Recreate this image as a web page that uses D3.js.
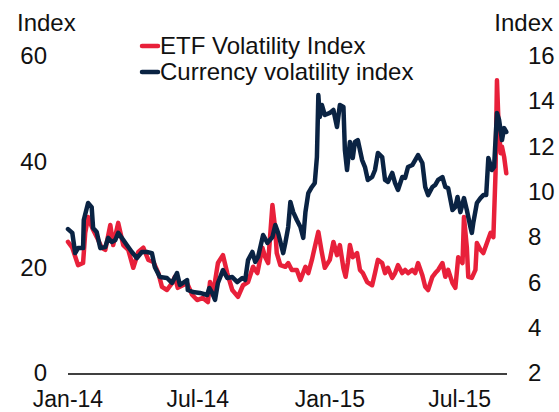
<!DOCTYPE html>
<html>
<head>
<meta charset="utf-8">
<script src="https://cdn.jsdelivr.net/npm/d3@7"></script>
<style>
  body { margin: 0; background: #fff; }
  svg { display: block; font-family: "Liberation Sans", Arial, sans-serif; }
  text { fill: #111; font-size: 24px; }
</style>
</head>
<body>
<div id="chart"></div>
<script>
// Dimensions
const width = 559;
const height = 412;
const plot = {left: 68, right: 507, top: 57, bottom: 374};

// Series names and colours
const seriesNames = ["ETF Volatility Index", "Currency volatility index"];
const seriesColours = ["#E8203A", "#0A2343"];

// Axis ticks
const leftTicks = [0, 20, 40, 60];
const rightTicks = [2, 4, 6, 8, 10, 12, 14, 16];
const xTickDates = ["2014-01-01", "2014-07-01", "2015-01-01", "2015-07-01"];
const xTickLabels = ["Jan-14", "Jul-14", "Jan-15", "Jul-15"];

// ETF volatility index (left axis)
const etfDates = [
  "2014-01-01","2014-01-07","2014-01-15","2014-01-22","2014-01-25","2014-01-29","2014-02-01","2014-02-05",
  "2014-02-12","2014-02-17","2014-02-22","2014-03-01","2014-03-05","2014-03-12","2014-03-19","2014-03-26",
  "2014-04-02","2014-04-09","2014-04-16","2014-04-23","2014-04-30","2014-05-07","2014-05-12","2014-05-19",
  "2014-05-26","2014-05-30","2014-06-03","2014-06-10","2014-06-16","2014-06-23","2014-06-30","2014-07-08",
  "2014-07-15","2014-07-18","2014-07-22","2014-07-29","2014-08-05","2014-08-11","2014-08-18","2014-08-26",
  "2014-09-02","2014-09-09","2014-09-16","2014-09-22","2014-09-29","2014-10-03","2014-10-07","2014-10-13",
  "2014-10-17","2014-10-19","2014-10-24","2014-10-31","2014-11-04","2014-11-09","2014-11-16","2014-11-21",
  "2014-11-28","2014-12-02","2014-12-07","2014-12-11","2014-12-16","2014-12-21","2014-12-25","2015-01-01",
  "2015-01-06","2015-01-11","2015-01-15","2015-01-20","2015-01-23","2015-01-26","2015-01-29","2015-02-02",
  "2015-02-08","2015-02-12","2015-02-16","2015-02-22","2015-03-01","2015-03-05","2015-03-09","2015-03-15",
  "2015-03-19","2015-03-23","2015-03-29","2015-04-02","2015-04-06","2015-04-12","2015-04-16","2015-04-20",
  "2015-04-26","2015-04-30","2015-05-04","2015-05-10","2015-05-14","2015-05-18","2015-05-24","2015-05-28",
  "2015-06-01","2015-06-07","2015-06-11","2015-06-15","2015-06-21","2015-06-25","2015-06-29","2015-07-05",
  "2015-07-07","2015-07-11","2015-07-13","2015-07-18","2015-07-23","2015-07-25","2015-07-30","2015-08-03",
  "2015-08-08","2015-08-13","2015-08-17","2015-08-20","2015-08-22","2015-08-24","2015-08-27","2015-08-29",
  "2015-09-01","2015-09-04"
];
const etfValues = [
  25.0, 23.9, 20.6, 21.0, 26.7, 29.7, 28.6, 27.3,
  25.4, 23.9, 23.5, 28.2, 24.4, 28.6, 24.4, 23.5,
  20.1, 23.1, 23.9, 21.6, 21.2, 19.1, 16.5, 15.9,
  17.2, 18.4, 16.3, 16.8, 17.2, 15.0, 14.0, 14.4,
  13.6, 17.4, 15.0, 21.0, 22.5, 19.1, 15.9, 14.6,
  16.8, 17.4, 20.3, 19.1, 23.9, 22.1, 21.0, 32.0,
  27.3, 22.9, 20.6, 20.3, 21.0, 19.7, 19.7, 17.8,
  20.3, 19.1, 21.6, 24.0, 26.9, 22.9, 20.1, 21.6,
  25.0, 22.5, 24.4, 20.0, 18.4, 21.0, 24.4, 22.1,
  22.9, 19.7, 19.1, 17.4, 16.8, 19.1, 21.6, 21.0,
  19.1, 20.1, 18.2, 19.1, 20.6, 19.1, 19.7, 19.1,
  19.7, 19.1, 21.0, 18.7, 16.5, 15.9, 18.4, 19.1,
  19.7, 21.0, 18.4, 19.7, 17.2, 16.3, 22.1, 21.0,
  29.7, 24.0, 18.4, 18.2, 19.7, 24.8, 23.5, 22.9,
  24.8, 26.7, 25.9, 38.0, 55.6, 48.1, 41.8, 43.0,
  41.1, 38.0
];

// Currency volatility index (right axis)
const fxDates = [
  "2014-01-01","2014-01-07","2014-01-11","2014-01-15","2014-01-22","2014-01-23","2014-01-29","2014-02-03",
  "2014-02-05","2014-02-10","2014-02-15","2014-02-22","2014-02-26","2014-03-03","2014-03-08","2014-03-12",
  "2014-03-17","2014-03-24","2014-03-31","2014-04-07","2014-04-14","2014-04-21","2014-04-28","2014-05-02",
  "2014-05-09","2014-05-19","2014-05-26","2014-06-02","2014-06-06","2014-06-16","2014-06-17","2014-06-24",
  "2014-07-04","2014-07-14","2014-07-17","2014-07-21","2014-07-25","2014-07-29","2014-08-05","2014-08-11",
  "2014-08-18","2014-08-25","2014-09-01","2014-09-05","2014-09-09","2014-09-15","2014-09-19","2014-09-23",
  "2014-09-30","2014-10-06","2014-10-13","2014-10-17","2014-10-21","2014-10-28","2014-10-31","2014-11-04",
  "2014-11-07","2014-11-11","2014-11-16","2014-11-21","2014-11-25","2014-11-28","2014-12-02","2014-12-07",
  "2014-12-11","2014-12-14","2014-12-16","2014-12-18","2014-12-21","2014-12-25","2015-01-01","2015-01-06",
  "2015-01-11","2015-01-15","2015-01-20","2015-01-22","2015-01-25","2015-01-29","2015-02-02","2015-02-05",
  "2015-02-09","2015-02-15","2015-02-19","2015-02-23","2015-03-01","2015-03-05","2015-03-09","2015-03-15",
  "2015-03-19","2015-03-23","2015-03-29","2015-04-02","2015-04-06","2015-04-12","2015-04-16","2015-04-20",
  "2015-04-26","2015-04-30","2015-05-04","2015-05-10","2015-05-14","2015-05-18","2015-05-24","2015-05-28",
  "2015-06-01","2015-06-07","2015-06-11","2015-06-15","2015-06-21","2015-06-25","2015-06-28","2015-07-02",
  "2015-07-07","2015-07-11","2015-07-16","2015-07-18","2015-07-20","2015-07-25","2015-07-30","2015-08-03",
  "2015-08-07","2015-08-10","2015-08-15","2015-08-18","2015-08-22","2015-08-25","2015-08-29","2015-09-01",
  "2015-09-04"
];
const fxValues = [
  8.40, 8.23, 7.34, 7.56, 7.56, 8.80, 9.55, 9.37,
  8.45, 8.27, 7.56, 7.61, 8.01, 7.83, 7.92, 8.23,
  8.01, 7.70, 7.39, 7.12, 7.39, 7.39, 7.34, 6.73,
  6.28, 6.24, 6.02, 6.46, 5.93, 6.15, 5.71, 5.62,
  5.58, 5.49, 5.80, 5.58, 5.27, 6.02, 6.59, 6.24,
  6.28, 6.06, 6.24, 6.15, 7.03, 7.39, 6.95, 7.17,
  8.14, 7.79, 8.05, 8.58, 8.23, 7.34, 7.79, 8.49,
  9.60, 9.15, 8.80, 8.49, 8.01, 9.15, 9.99, 10.26,
  10.43, 11.58, 14.32, 13.35, 13.88, 13.44, 13.53, 13.66,
  12.91, 13.88, 13.79, 11.89, 11.01, 12.25, 11.54, 12.25,
  12.33, 11.45, 11.14, 10.57, 10.70, 11.01, 11.76, 11.58,
  10.57, 10.48, 10.88, 10.43, 10.13, 10.70, 10.66, 11.14,
  11.23, 11.45, 11.67, 11.32, 10.26, 9.90, 10.26, 10.35,
  10.57, 10.70, 10.26, 10.21, 9.24, 9.38, 9.82, 9.15,
  9.77, 9.24, 8.49, 8.23, 8.67, 9.55, 9.77, 9.90,
  9.90, 11.54, 11.01, 11.14, 13.53, 13.22, 12.33, 12.86,
  12.69
];

const parseDate = d3.timeParse("%Y-%m-%d");
const etf = etfDates.map((d, i) => ({date: parseDate(d), value: etfValues[i]}));
const fx = fxDates.map((d, i) => ({date: parseDate(d), value: fxValues[i]}));

// Scales
const x = d3.scaleTime()
    .domain([parseDate("2014-01-01"), parseDate("2015-09-05")])
    .range([plot.left, plot.right]);
const yLeft = d3.scaleLinear().domain([0, 60]).range([plot.bottom, plot.top]);
const yRight = d3.scaleLinear().domain([2, 16]).range([plot.bottom, plot.top]);

const svg = d3.select("#chart").append("svg")
    .attr("width", width)
    .attr("height", height);

// Axis titles
svg.append("text").attr("x", 17).attr("y", 31).text("Index");
svg.append("text").attr("x", 553).attr("y", 31).attr("text-anchor", "end").text("Index");

// Left tick labels
svg.append("g").selectAll("text")
    .data(leftTicks)
    .join("text")
    .attr("x", 47)
    .attr("y", d => yLeft(d))
    .attr("dy", "0.3em")
    .attr("text-anchor", "end")
    .text(d => d);

// Right tick labels
svg.append("g").selectAll("text")
    .data(rightTicks)
    .join("text")
    .attr("x", 528)
    .attr("y", d => yRight(d))
    .attr("dy", "0.3em")
    .text(d => d);

// X tick labels
svg.append("g").selectAll("text")
    .data(xTickDates)
    .join("text")
    .attr("x", d => x(parseDate(d)))
    .attr("y", 407)
    .attr("text-anchor", "middle")
    .style("font-size", "23px")
    .text((d, i) => xTickLabels[i]);

// Baseline
svg.append("line")
    .attr("x1", plot.left).attr("x2", plot.right)
    .attr("y1", plot.bottom).attr("y2", plot.bottom)
    .attr("stroke", "#000")
    .attr("stroke-width", 1.5);

// Lines
const etfLine = d3.line().x(d => x(d.date)).y(d => yLeft(d.value));
const fxLine = d3.line().x(d => x(d.date)).y(d => yRight(d.value));

svg.append("path")
    .datum(etf)
    .attr("d", etfLine)
    .attr("fill", "none")
    .attr("stroke", seriesColours[0])
    .attr("stroke-width", 4.5)
    .attr("stroke-linejoin", "round")
    .attr("stroke-linecap", "round");

svg.append("path")
    .datum(fx)
    .attr("d", fxLine)
    .attr("fill", "none")
    .attr("stroke", seriesColours[1])
    .attr("stroke-width", 4.5)
    .attr("stroke-linejoin", "round")
    .attr("stroke-linecap", "round");

// Legend
const legend = svg.append("g").selectAll("g")
    .data(seriesNames)
    .join("g")
    .attr("transform", (d, i) => `translate(142, ${46 + i * 26})`);

legend.append("line")
    .attr("x1", 0).attr("x2", 16)
    .attr("stroke", (d, i) => seriesColours[i])
    .attr("stroke-width", 4.5)
    .attr("stroke-linecap", "round");

legend.append("text")
    .attr("x", 18)
    .attr("y", 8)
    .text(d => d);
</script>
</body>
</html>
